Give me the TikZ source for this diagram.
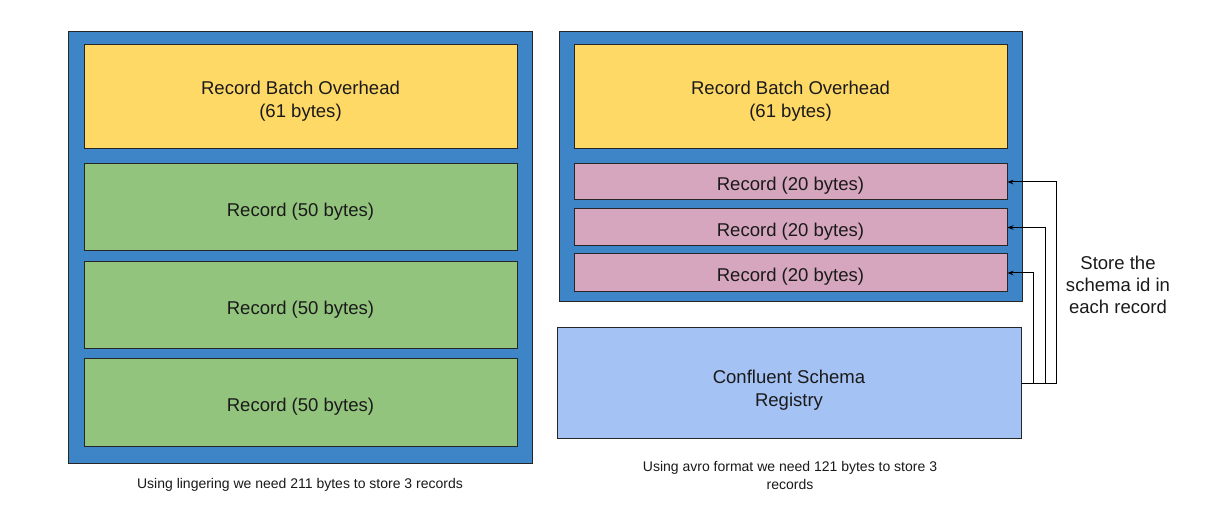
\documentclass[tikz,border=0pt]{standalone}
\usepackage{fontspec}
\setmainfont{Liberation Sans}
\usetikzlibrary{fit,calc,arrows.meta}
\definecolor{outerblue}{HTML}{3D85C6}
\definecolor{ovyellow}{HTML}{FFD966}
\definecolor{recgreen}{HTML}{93C47D}
\definecolor{recpink}{HTML}{D5A6BD}
\definecolor{regblue}{HTML}{A4C2F4}
\definecolor{txt}{HTML}{1A1A1A}
\tikzset{
  box/.style={draw=black!85, line width=0.75pt, inner sep=0pt},
  outer/.style={box, fill=outerblue},
  boxtext/.style={text=txt, align=center, inner sep=0pt, yshift=-3pt, font=\fontsize{13.9}{17.25}\selectfont},
  captext/.style={text=txt, align=center, font=\fontsize{10.5}{13.5}\selectfont},
  arr/.style={draw=black, line width=0.75pt, -{Stealth[length=4.5pt,width=3.5pt]}},
}
\begin{document}
\begin{tikzpicture}[x=0.75pt,y=-0.75pt]
\useasboundingbox[fill=white] (0,0) rectangle (1215,527);
% left batch
\node[outer, fit={(68,32) (532,464)}] (lout) {};
\node[box, fill=ovyellow, fit={(84,45) (517,149)}] (lov) {};
\node[box, fill=recgreen, fit={(84,164) (517,251)}] (lr1) {};
\node[box, fill=recgreen, fit={(84,262) (517,349)}] (lr2) {};
\node[box, fill=recgreen, fit={(84,359) (517,447)}] (lr3) {};
\node[boxtext] at (lov.center) {Record Batch Overhead\\(61 bytes)};
\node[boxtext] at (lr1.center) {Record (50 bytes)};
\node[boxtext] at (lr2.center) {Record (50 bytes)};
\node[boxtext] at (lr3.center) {Record (50 bytes)};
\node[captext] (lcap) at (300,485) {Using lingering we need 211 bytes to store 3 records};
% right batch
\node[outer, fit={(559,32) (1022,302)}] (rout) {};
\node[box, fill=ovyellow, fit={(574,45) (1007,149)}] (rov) {};
\node[box, fill=recpink, fit={(574,164) (1007,200)}] (p1) {};
\node[box, fill=recpink, fit={(574,209) (1007,246)}] (p2) {};
\node[box, fill=recpink, fit={(574,254) (1007,292)}] (p3) {};
\node[box, fill=regblue, fit={(557,328) (1021,439)}] (reg) {};
\node[boxtext] at (rov.center) {Record Batch Overhead\\(61 bytes)};
\node[boxtext] at (p1.center) {Record (20 bytes)};
\node[boxtext] at (p2.center) {Record (20 bytes)};
\node[boxtext] at (p3.center) {Record (20 bytes)};
\node[boxtext, yshift=-2pt] at (reg.center) {Confluent Schema\\Registry};
\node[captext] (rcap) at (790,475) {Using avro format we need 121 bytes to store 3\\records};
% arrows
\draw[arr] (reg.east) -| ($(p1.east)+(49,0)$) -- (p1.east);
\draw[arr] (reg.east) -| ($(p2.east)+(38,0)$) -- (p2.east);
\draw[arr] (reg.east) -| ($(p3.east)+(26,0)$) -- (p3.east);
\node[text=txt, align=center, font=\fontsize{13.9}{16.5}\selectfont] (note) at (1118,285) {Store the\\schema id in\\each record};
\end{tikzpicture}
\end{document}
